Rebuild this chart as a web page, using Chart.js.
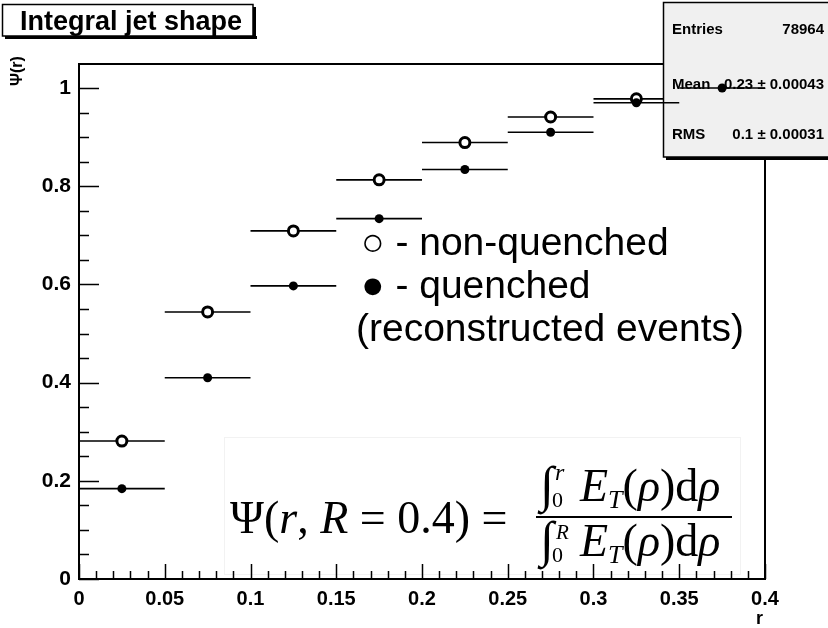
<!DOCTYPE html>
<html>
<head>
<meta charset="utf-8">
<script src="https://cdn.jsdelivr.net/npm/chart.js@4.4.1/dist/chart.umd.min.js"></script>
<style>
  html, body { margin: 0; padding: 0; background: #fff; }
</style>
</head>
<body>
<canvas id="jetChart" width="828" height="628"></canvas>
<script>
// bin centres in r and the two integral jet shapes
const rCenters = [0.025, 0.075, 0.125, 0.175, 0.225, 0.275, 0.325, 0.375];
const binHalfWidth = 0.025;
const nonQuenched = [0.281, 0.544, 0.709, 0.813, 0.889, 0.941, 0.978, 1.0];
const quenched = [0.184, 0.410, 0.597, 0.734, 0.834, 0.910, 0.970, 1.0];

// axis ticks
const xTickValues = [0, 0.05, 0.1, 0.15, 0.2, 0.25, 0.3, 0.35, 0.4];
const yTickValues = [0, 0.2, 0.4, 0.6, 0.8, 1];
const xMinorStep = 0.01;
const yMinorStep = 0.05;

// stats box and annotation text
const statsLabels = ['Entries', 'Mean', 'RMS'];
const statsValues = ['78964', '0.23 \u00b1 0.00043', '0.1 \u00b1 0.00031'];
const legendLines = ['\u25cb - non-quenched', '\u25cf - quenched', '(reconstructed events)'];

const FONT = '"Liberation Sans", Arial, sans-serif';
const SERIF = '"Liberation Serif", "Times New Roman", serif';

// horizontal bars: two points per bin, then a gap
function binSegments(values) {
    const pts = [];
    values.forEach((v, i) => {
        pts.push({ x: rCenters[i] - binHalfWidth, y: v });
        pts.push({ x: rCenters[i] + binHalfWidth, y: v });
        pts.push({ x: rCenters[i] + binHalfWidth, y: null });
    });
    return pts;
}
function binPoints(values) {
    return values.map((v, i) => ({ x: rCenters[i], y: v }));
}

function fmt(v) { return String(+v.toFixed(2)); }

// frame, minor ticks, titles, formula
const decorPlugin = {
    id: 'decor',
    beforeDatasetsDraw(chart) {
        const ctx = chart.ctx;
        const a = chart.chartArea;
        const xs = chart.scales.x, ys = chart.scales.y;
        ctx.save();
        ctx.strokeStyle = '#000';
        ctx.lineWidth = 2;
        // top and right frame lines
        ctx.beginPath();
        ctx.moveTo(a.left, a.top); ctx.lineTo(a.right, a.top);
        ctx.moveTo(a.right, a.top); ctx.lineTo(a.right, a.bottom);
        ctx.stroke();

        // formula (white patch pasted on the plot)
        drawFormula(ctx);

        // ticks pointing inward
        ctx.strokeStyle = '#000';
        ctx.lineWidth = 1.5;
        ctx.beginPath();
        for (let k = 0; k * xMinorStep <= xs.max + 1e-9; k++) {
            const v = k * xMinorStep;
            const px = Math.round(xs.getPixelForValue(v)) + 0.5;
            const len = (k % 5 === 0) ? 15 : 8;
            ctx.moveTo(px, a.bottom); ctx.lineTo(px, a.bottom - len);
        }
        for (let k = 0; k * yMinorStep <= ys.max + 1e-9; k++) {
            const v = k * yMinorStep;
            const py = Math.round(ys.getPixelForValue(v)) + 0.5;
            const len = (k % 4 === 0) ? 20 : 10;
            ctx.moveTo(a.left, py); ctx.lineTo(a.left + len, py);
        }
        ctx.stroke();

        // legend text
        ctx.fillStyle = '#000';
        ctx.textBaseline = 'middle';
        ctx.font = '39px ' + FONT;
        ctx.fillText(legendLines[0], 361, 244);
        ctx.fillText(legendLines[1], 361, 287);
        ctx.fillText(legendLines[2], 356, 330);
        ctx.restore();
    },
    afterDatasetDraw(chart, args) {
        // stats box sits above the non-quenched histogram, below the quenched one
        if (args.index !== 1) return;
        const ctx = chart.ctx;
        ctx.save();
        ctx.fillStyle = '#000';
        ctx.fillRect(666, 157, 170, 3);
        ctx.fillStyle = '#f0f0f0';
        ctx.fillRect(663, 2, 170, 155);
        ctx.strokeStyle = '#000';
        ctx.lineWidth = 1.5;
        ctx.strokeRect(663.5, 2.5, 170, 154.5);
        ctx.fillStyle = '#000';
        ctx.font = 'bold 15px ' + FONT;
        ctx.textBaseline = 'alphabetic';
        const rows = [34, 89, 139];
        statsLabels.forEach((lab, i) => {
            ctx.textAlign = 'left';
            ctx.fillText(lab, 672, rows[i]);
            ctx.textAlign = 'right';
            ctx.fillText(statsValues[i], 824, rows[i]);
        });
        ctx.restore();
    },
    afterDraw(chart) {
        const ctx = chart.ctx;
        ctx.save();
        // title box with shadow
        ctx.fillStyle = '#000';
        ctx.fillRect(5, 36, 252, 3);
        ctx.fillRect(253, 7, 3, 32);
        ctx.fillStyle = '#fff';
        ctx.fillRect(2, 4, 251, 32);
        ctx.strokeStyle = '#000';
        ctx.lineWidth = 1.5;
        ctx.strokeRect(2.5, 4.5, 250.5, 31.5);
        ctx.fillStyle = '#000';
        ctx.font = 'bold 27px ' + FONT;
        ctx.textBaseline = 'alphabetic';
        ctx.textAlign = 'left';
        ctx.fillText('Integral jet shape', 20, 30);
        // axis titles
        ctx.font = 'bold 18px ' + FONT;
        ctx.fillText('r', 756, 624);
        ctx.translate(22, 71);
        ctx.rotate(-Math.PI / 2);
        ctx.textAlign = 'center';
        ctx.font = 'bold 16px ' + FONT;
        ctx.fillText('\u03a8(r)', 0, 0);
        ctx.restore();
    }
};

// run of text pieces: [text, italic, size, dy]
function drawRun(ctx, x, y, runs) {
    runs.forEach(r => {
        ctx.font = (r[1] ? 'italic ' : '') + r[2] + 'px ' + SERIF;
        ctx.fillText(r[0], x, y + (r[3] || 0));
        x += ctx.measureText(r[0]).width;
    });
    return x;
}

function drawFormula(ctx) {
    ctx.save();
    ctx.fillStyle = '#fff';
    ctx.fillRect(225, 438, 516, 136);
    ctx.strokeStyle = '#f2f2f2';
    ctx.lineWidth = 1;
    ctx.strokeRect(224.5, 437.5, 516, 137);
    ctx.fillStyle = '#000';
    ctx.textBaseline = 'alphabetic';
    ctx.textAlign = 'left';
    const s = 46;
    drawRun(ctx, 230, 533, [
        ['\u03a8(', false, s], ['r', true, s], [', ', false, s], ['R', true, s],
        [' = 0.4) =', false, s]
    ]);
    ctx.lineWidth = 2;
    ctx.strokeStyle = '#000';
    ctx.beginPath();
    ctx.moveTo(536, 517); ctx.lineTo(732, 517);
    ctx.stroke();
    const tail = [
        ['E', true, s], ['T', true, 26, 7], ['(', false, s], ['\u03c1', true, s],
        [')d', false, s], ['\u03c1', true, s]
    ];
    // numerator
    drawRun(ctx, 540, 501, [['\u222b', false, 50]]);
    drawRun(ctx, 552, 507, [['0', false, 22]]);
    drawRun(ctx, 555, 480, [['r', true, 24]]);
    drawRun(ctx, 580, 501, tail);
    // denominator
    drawRun(ctx, 540, 556, [['\u222b', false, 50]]);
    drawRun(ctx, 552, 562, [['0', false, 22]]);
    drawRun(ctx, 556, 539, [['R', true, 21]]);
    drawRun(ctx, 580, 556, tail);
    ctx.restore();
}

new Chart(document.getElementById('jetChart'), {
    type: 'scatter',
    data: {
        datasets: [
            {
                label: 'non-quenched bins',
                data: binSegments(nonQuenched),
                showLine: true, spanGaps: false,
                borderColor: '#000', borderWidth: 1.6,
                pointRadius: 0, order: 3
            },
            {
                label: 'non-quenched',
                data: binPoints(nonQuenched),
                pointStyle: 'circle', pointRadius: 5, borderWidth: 3,
                borderColor: '#000', backgroundColor: '#fff', order: 2
            },
            {
                label: 'quenched bins',
                data: binSegments(quenched),
                showLine: true, spanGaps: false,
                borderColor: '#000', borderWidth: 1.6,
                pointRadius: 0, order: 1
            },
            {
                label: 'quenched',
                data: binPoints(quenched),
                pointStyle: 'circle', pointRadius: 4.5, borderWidth: 0,
                backgroundColor: '#000', order: 0
            }
        ]
    },
    options: {
        responsive: false,
        animation: false,
        devicePixelRatio: 1,
        layout: { padding: { left: 0, top: 64, right: 63, bottom: 0 } },
        plugins: { legend: { display: false }, tooltip: { enabled: false } },
        scales: {
            x: {
                type: 'linear', min: 0, max: 0.4,
                grid: { display: false, drawTicks: false },
                border: { display: true, color: '#000', width: 2 },
                afterBuildTicks: s => { s.ticks = xTickValues.map(v => ({ value: v })); },
                afterFit: s => { s.height = 49; },
                ticks: {
                    color: '#000', padding: 8, maxRotation: 0, autoSkip: false,
                    font: { family: FONT, size: 20, weight: 'bold' },
                    callback: v => fmt(v)
                }
            },
            y: {
                type: 'linear', min: 0, max: 1.049,
                grid: { display: false, drawTicks: false },
                border: { display: true, color: '#000', width: 2 },
                afterBuildTicks: s => { s.ticks = yTickValues.map(v => ({ value: v })); },
                afterFit: s => { s.width = 79; },
                ticks: {
                    color: '#000', padding: 8, autoSkip: false,
                    font: { family: FONT, size: 21, weight: 'bold' },
                    callback: v => fmt(v)
                }
            }
        }
    },
    plugins: [decorPlugin]
});
</script>
</body>
</html>
